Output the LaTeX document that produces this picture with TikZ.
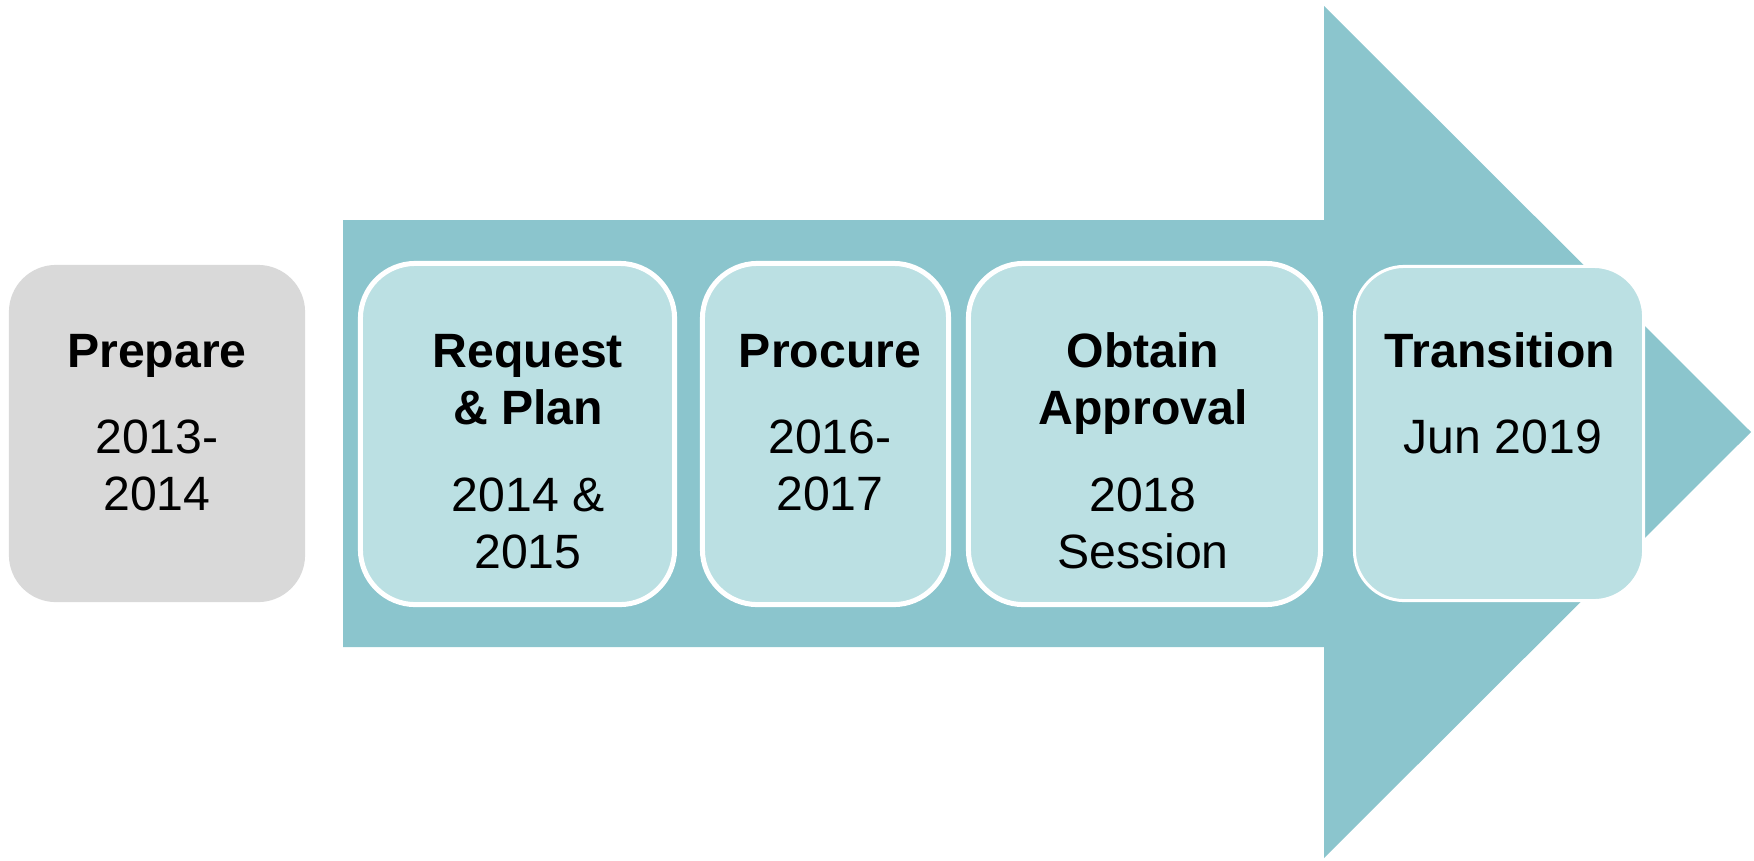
\documentclass[tikz,border=0pt]{standalone}
\usepackage{fontspec}
\setmainfont{Liberation Sans}
\usetikzlibrary{calc}
\definecolor{arrowteal}{HTML}{8BC5CD}
\definecolor{boxteal}{HTML}{BBE0E3}
\definecolor{boxgray}{HTML}{D9D9D9}
\newcommand{\Px}{0.01cm}
\newcommand{\StageFont}{\fontsize{13.7pt}{16.2pt}\selectfont}
\tikzset{Stage/.style={
    inner sep=0pt,
    minimum height=3.41cm,
    rounded corners=0.55cm,
    draw=white,
    line width=0.05cm,
    fill=boxteal,
    }
}

\begin{document}
\begin{tikzpicture}[x=\Px, y=-\Px,
    Title/.style={anchor=base, align=center, font=\StageFont\bfseries},
    Date/.style={anchor=base, align=center, font=\StageFont},
]
\useasboundingbox (0,0) rectangle (1754,860);
% the big arrow behind the stages
\fill[arrowteal] (343,220) -- (1324,220) -- (1324,6) -- (1751,432)
    -- (1324,858) -- (1324,647) -- (343,647) -- cycle;
% stage boxes
\node [Stage, draw=none, fill=boxgray, minimum width=2.96cm, minimum height=3.37cm,
    rounded corners=0.47cm] (prep) at (157,433.5) {};
\node [Stage, minimum width=3.14cm] (req) at (517.5,434) {};
\node [Stage, minimum width=2.46cm] (proc) at (825.5,434) {};
\node [Stage, minimum width=3.52cm] (obt) at (1144.5,434) {};
\node [Stage, line width=0.03cm, minimum width=2.89cm, minimum height=3.34cm,
    rounded corners=0.5cm] (trans) at (1499,433.5) {};
% texts (base = last line)
\node [Title] (prep-t) at (157,367) {Prepare};
\node [Date] (prep-d) at (157,510) {2013-\\2014};
\node [Title] (req-t) at (528,424) {Request\\\& Plan};
\node [Date] (req-d) at (528,568) {2014 \&\\2015};
\node [Title] (proc-t) at (830,367) {Procure};
\node [Date] (proc-d) at (830,510) {2016-\\2017};
\node [Title] (obt-t) at (1143,424) {Obtain\\Approval};
\node [Date] (obt-d) at (1143,568) {2018\\Session};
\node [Title] (trans-t) at (1500,367) {Transition};
\node [Date] (trans-d) at (1503,453) {Jun 2019};
\end{tikzpicture}
\end{document}
